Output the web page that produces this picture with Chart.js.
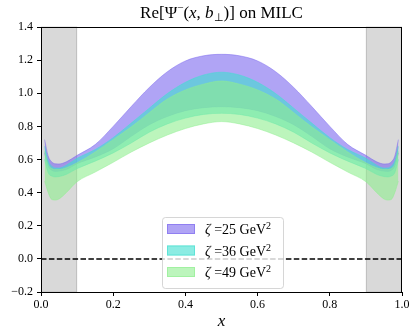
<!DOCTYPE html>
<html><head><meta charset="utf-8">
<script src="https://cdn.jsdelivr.net/npm/chart.js@4/dist/chart.umd.min.js"></script>
<style>html,body{margin:0;padding:0;background:#fff}#wrap{width:415px;height:332px}</style>
</head><body><div id="wrap"><canvas id="c" width="415" height="332"></canvas></div>
<script>
// ---- data ----
const xValues = [0.01,0.02,0.03,0.04,0.05,0.07,0.1,0.15,0.2,0.25,0.3,0.35,0.4,0.45,0.5,0.55,0.6,0.65,0.7,0.75,0.8,0.85,0.9,0.93,0.95,0.96,0.97,0.98,0.99];
const zetaValues = [25, 36, 49];
const upper25 = [0.72,0.62,0.585,0.574,0.573,0.586,0.625,0.69,0.80,0.92,1.035,1.13,1.195,1.226,1.235,1.226,1.195,1.13,1.035,0.92,0.80,0.69,0.625,0.586,0.573,0.574,0.585,0.62,0.72];
const lower25 = [0.64,0.56,0.535,0.528,0.53,0.54,0.575,0.615,0.665,0.74,0.81,0.86,0.895,0.913,0.919,0.913,0.895,0.86,0.81,0.74,0.665,0.615,0.575,0.54,0.53,0.528,0.535,0.56,0.64];
const upper36 = [0.68,0.59,0.56,0.549,0.548,0.565,0.607,0.66,0.732,0.82,0.91,0.998,1.066,1.11,1.127,1.11,1.066,0.998,0.91,0.82,0.732,0.66,0.607,0.565,0.548,0.549,0.56,0.59,0.68];
const lower36 = [0.60,0.52,0.50,0.495,0.497,0.51,0.545,0.59,0.64,0.70,0.765,0.815,0.85,0.872,0.879,0.872,0.85,0.815,0.765,0.70,0.64,0.59,0.545,0.51,0.497,0.495,0.50,0.52,0.60];
const upper49 = [0.65,0.57,0.545,0.54,0.54,0.55,0.58,0.645,0.72,0.797,0.883,0.965,1.02,1.055,1.074,1.055,1.02,0.965,0.883,0.797,0.72,0.645,0.58,0.55,0.54,0.54,0.545,0.57,0.65];
const lower49 = [0.47,0.40,0.358,0.355,0.362,0.40,0.466,0.524,0.583,0.645,0.70,0.748,0.787,0.815,0.829,0.815,0.787,0.748,0.70,0.645,0.583,0.524,0.466,0.40,0.362,0.355,0.358,0.40,0.47];
const zeroLineX = [0, 1];
const zeroLineY = [0, 0];
const shadedRegions = [[0, 0.1], [0.9, 1.0]];
const yTickValues = [-0.2, 0.0, 0.2, 0.4, 0.6, 0.8, 1.0, 1.2, 1.4];
const xTickValues = [0.0, 0.2, 0.4, 0.6, 0.8, 1.0];

// ---- styles ----
const bandColors = ['rgba(123,104,238,0.6)', 'rgba(64,224,208,0.6)', 'rgba(144,238,144,0.6)'];
const bands = [[lower25, upper25], [lower36, upper36], [lower49, upper49]];
const SERIF = "'Liberation Serif','Times New Roman',serif";

const pts = (xs, ys) => xs.map((x, i) => ({x, y: ys[i]}));
const datasets = [];
bands.forEach((b, i) => {
  const common = {pointRadius: 0, borderWidth: 0.8, borderColor: bandColors[i], backgroundColor: bandColors[i],
                  cubicInterpolationMode: 'monotone', order: 3 - i};
  datasets.push(Object.assign({label: 'low' + zetaValues[i], data: pts(xValues, b[0]), fill: false}, common));
  datasets.push(Object.assign({label: 'zeta' + zetaValues[i], data: pts(xValues, b[1]), fill: '-1'}, common));
});
datasets.push({label: 'zero', data: pts(zeroLineX, zeroLineY), borderColor: '#000', borderWidth: 1.5,
  borderDash: [5.5, 2.4], pointRadius: 0, fill: false, order: 0});

const fmt = v => { const s = Math.abs(v).toFixed(1); return (v < -1e-9 ? '\u2212' : '') + s; };

const shadePlugin = {
  id: 'shade',
  beforeDatasetsDraw(chart) {
    const {ctx, chartArea: a, scales: {x, y}} = chart;
    ctx.save();
    shadedRegions.forEach(([x0, x1]) => {
      const p0 = x.getPixelForValue(x0), p1 = x.getPixelForValue(x1);
      ctx.fillStyle = 'rgba(128,128,128,0.3)';
      ctx.fillRect(p0, a.top, p1 - p0, a.bottom - a.top);
      ctx.strokeStyle = 'rgba(128,128,128,0.3)';
      ctx.lineWidth = 1;
      ctx.strokeRect(p0 + 0.5, a.top, p1 - p0 - 1, a.bottom - a.top);
    });
    ctx.restore();
  }
};

function drawSegments(ctx, segs, cx, baseline, align) {
  let w = 0;
  segs.forEach(s => { ctx.font = s.f; w += ctx.measureText(s.t).width; });
  let xx = align === 'center' ? cx - w / 2 : cx;
  ctx.textBaseline = 'alphabetic';
  ctx.textAlign = 'left';
  segs.forEach(s => { ctx.font = s.f; ctx.fillText(s.t, xx, baseline + (s.dy || 0)); xx += ctx.measureText(s.t).width; });
}

const decorPlugin = {
  id: 'decor',
  afterDraw(chart) {
    const {ctx, chartArea: a} = chart;
    ctx.save();
    // frame
    ctx.strokeStyle = '#000'; ctx.lineWidth = 1;
    ctx.strokeRect(a.left + 0.5, a.top + 0.5, a.right - a.left - 1, a.bottom - a.top);
    // title
    ctx.fillStyle = '#000';
    const R = '17px ' + SERIF, I = 'italic 17px ' + SERIF, S = '11px ' + SERIF;
    drawSegments(ctx, [
      {t: 'Re[\u03A8', f: R}, {t: '\u2212', f: S, dy: -7}, {t: '(', f: R}, {t: 'x', f: I}, {t: ', ', f: R},
      {t: 'b', f: I}, {t: '\u22A5', f: S, dy: 3}, {t: ')] on MILC', f: R}
    ], (a.left + a.right) / 2, 18, 'center');
    // legend
    const bx = 162, by = 217, bw = 121, bh = 71;
    ctx.beginPath();
    ctx.roundRect(bx + 0.5, by + 0.5, bw, bh, 3);
    ctx.fillStyle = 'rgba(255,255,255,0.8)';
    ctx.fill();
    ctx.strokeStyle = 'rgba(204,204,204,0.8)';
    ctx.lineWidth = 1;
    ctx.stroke();
    const rows = [229, 250.5, 272];
    zetaValues.forEach((z, i) => {
      ctx.fillStyle = bandColors[i];
      ctx.fillRect(167, rows[i] - 5, 28, 10);
      ctx.strokeStyle = bandColors[i];
      ctx.strokeRect(167.5, rows[i] - 4.5, 27, 9);
      ctx.fillStyle = '#000';
      drawSegments(ctx, [
        {t: '\u03B6', f: 'italic 14px ' + SERIF}, {t: ' =' + z + ' GeV', f: '14px ' + SERIF},
        {t: '2', f: '10px ' + SERIF, dy: -5}
      ], 205, rows[i] + 5, 'left');
    });
    ctx.restore();
  }
};

new Chart(document.getElementById('c'), {
  type: 'line',
  data: {datasets},
  options: {
    responsive: false, animation: false, devicePixelRatio: 1,
    layout: {padding: {left: 0, right: 13, top: 27, bottom: 0}},
    plugins: {legend: {display: false}, tooltip: {enabled: false}, title: {display: false}},
    scales: {
      x: {
        type: 'linear', min: 0, max: 1,
        afterBuildTicks: s => { s.ticks = xTickValues.map(v => ({value: v})); },
        ticks: {callback: v => fmt(v), color: '#000', font: {family: SERIF, size: 12}, padding: 2, maxRotation: 0},
        grid: {drawOnChartArea: false, tickLength: 4, tickColor: '#000'},
        border: {display: true, color: '#000', width: 1},
        title: {display: true, text: 'x', color: '#000', font: {family: SERIF, size: 17, style: 'italic'}, padding: {top: 0, bottom: 0}},
        afterFit: s => { s.height = 40; }
      },
      y: {
        type: 'linear', min: -0.2, max: 1.4,
        afterBuildTicks: s => { s.ticks = yTickValues.map(v => ({value: v})); },
        ticks: {callback: v => fmt(v), color: '#000', font: {family: SERIF, size: 12}, padding: 4},
        grid: {drawOnChartArea: false, tickLength: 4, tickColor: '#000'},
        border: {display: true, color: '#000', width: 1},
        afterFit: s => { s.width = 41; }
      }
    }
  },
  plugins: [shadePlugin, decorPlugin]
});
</script></body></html>
